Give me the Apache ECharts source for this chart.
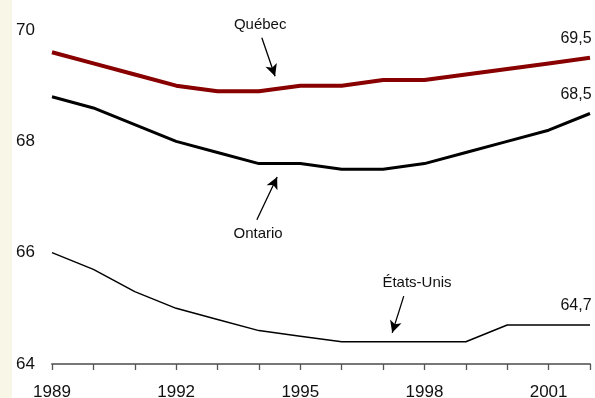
<!DOCTYPE html>
<html>
<head>
<meta charset="utf-8">
<script src="https://cdn.jsdelivr.net/npm/echarts@6/dist/echarts.min.js"></script>
<style>
  html, body { margin: 0; padding: 0; background: #ffffff; }
  #chart { width: 595px; height: 398px; }
</style>
</head>
<body>
<div id="chart"></div>
<script>
// Espérance de vie en santé (années), 1989 à 2002
const years = [1989, 1990, 1991, 1992, 1993, 1994, 1995, 1996, 1997, 1998, 1999, 2000, 2001, 2002];
const quebec = [69.6, 69.4, 69.2, 69.0, 68.9, 68.9, 69.0, 69.0, 69.1, 69.1, 69.2, 69.3, 69.4, 69.5];
const ontario = [68.8, 68.6, 68.3, 68.0, 67.8, 67.6, 67.6, 67.5, 67.5, 67.6, 67.8, 68.0, 68.2, 68.5];
const etatsUnis = [66.0, 65.7, 65.3, 65.0, 64.8, 64.6, 64.5, 64.4, 64.4, 64.4, 64.4, 64.7, 64.7, 64.7];
const yTicks = [64, 66, 68, 70];
const xLabelYears = [1989, 1992, 1995, 1998, 2001];

// Callout placement in data units: name position, arrow tail, arrow head
const callouts = [
  { name: 'Québec',     text: [1994.03, 70.09], tail: [1994.07, 69.86], head: [1994.39, 69.17] },
  { name: 'Ontario',    text: [1993.98, 66.34], tail: [1993.95, 66.59], head: [1994.44, 67.36] },
  { name: 'États-Unis', text: [1997.82, 65.45], tail: [1997.50, 65.22], head: [1997.22, 64.56] }
];

const FONT = 'Liberation Sans, Arial, sans-serif';

function fmt(v) { return v.toFixed(1).replace('.', ','); }

// Pairs [year, value]; only the final point shows its value label.
function points(values) {
  return values.map((v, i) => {
    const last = i === values.length - 1;
    return {
      value: [years[i], v],
      label: last ? {
        show: true, position: 'top', distance: 11, offset: [-14, 0],
        formatter: () => fmt(v), color: '#111', fontSize: 16, fontFamily: FONT
      } : { show: false }
    };
  });
}

function arrow(c) {
  return {
    markLine: {
      silent: true, animation: false,
      lineStyle: { color: '#000', width: 1.3, type: 'solid' },
      label: { show: false },
      data: [[
        { coord: c.tail, symbol: 'none' },
        { coord: c.head, symbol: 'arrow', symbolSize: [9, 12] }
      ]]
    }
  };
}

function lineSeries(name, values, color, width, c) {
  return Object.assign({
    name: name, type: 'line', data: points(values),
    showSymbol: true, symbol: 'circle', symbolSize: 0,
    clip: false,
    lineStyle: { color: color, width: width },
    itemStyle: { color: color },
    emphasis: { disabled: true }
  }, arrow(c));
}

const chart = echarts.init(document.getElementById('chart'), null, { renderer: 'canvas' });

const option = {
  backgroundColor: '#ffffff',
  animation: false,
  graphic: [{
    id: 'strip', type: 'rect', left: 0, top: 0, silent: true, z: -10,
    shape: { width: 12, height: 398 },
    style: { fill: '#f8f7e7' }
  }],
  grid: { left: 52, right: 5, top: 30, bottom: 34, containLabel: false, outerBoundsMode: 'none' },
  xAxis: {
    type: 'value', min: years[0], max: years[years.length - 1], interval: 1,
    axisLine: { show: true, lineStyle: { color: '#777', width: 2 } },
    axisTick: { show: true, length: 6, lineStyle: { color: '#555', width: 1.3 } },
    splitLine: { show: false },
    axisLabel: {
      color: '#111', fontSize: 17, fontFamily: FONT, margin: 20,
      formatter: v => xLabelYears.includes(v) ? String(v) : ''
    }
  },
  yAxis: {
    type: 'value', min: yTicks[0], max: yTicks[yTicks.length - 1], interval: 2,
    axisLine: { show: false }, axisTick: { show: false },
    splitLine: { show: false },
    axisLabel: { color: '#111', fontSize: 17, fontFamily: FONT, align: 'left', margin: 36 }
  },
  series: [
    Object.assign(lineSeries('Québec', quebec, '#880000', 4, callouts[0]), { z: 3 }),
    Object.assign(lineSeries('Ontario', ontario, '#000000', 3, callouts[1]), { z: 2 }),
    Object.assign(lineSeries('États-Unis', etatsUnis, '#000000', 1.5, callouts[2]), { z: 2 })
  ]
};
chart.setOption(option);

// Callout names, positioned through the chart's own coordinate system
const texts = callouts.map((c, i) => {
  const p = chart.convertToPixel({ gridIndex: 0 }, c.text);
  return {
    id: 'name' + i, type: 'text', x: p[0], y: p[1], silent: true, z: 10,
    style: {
      text: c.name, fill: '#111', font: '15px ' + FONT,
      align: 'center', verticalAlign: 'middle'
    }
  };
});
chart.setOption({ graphic: texts });
</script>
</body>
</html>
